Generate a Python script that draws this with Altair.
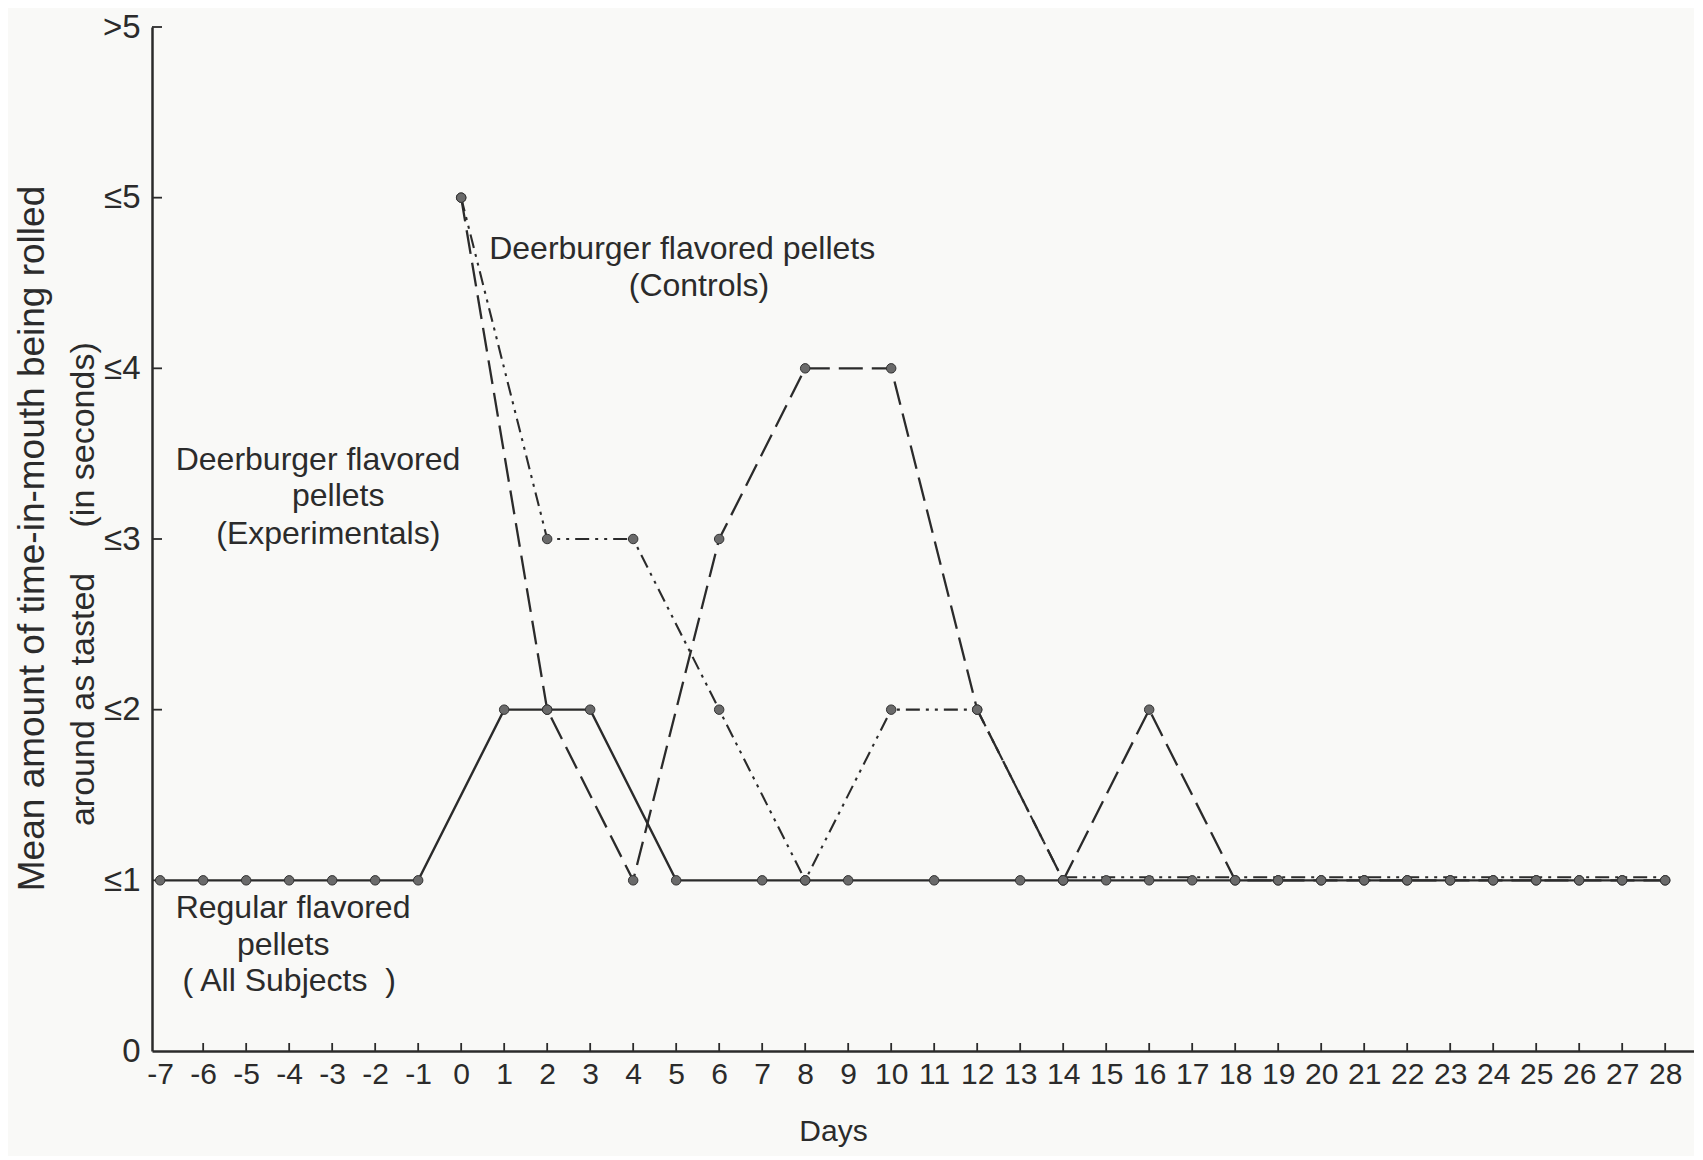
import altair as alt
import pandas as pd

FONT = "Liberation Sans"
INK = "#2b2b2b"

# ---- data ----
x_ticks = [-7, -6, -5, -4, -3, -2, -1, 0, 1, 2, 3, 4, 5, 6, 7, 8, 9, 10, 11, 12, 13, 14,
           15, 16, 17, 18, 19, 20, 21, 22, 23, 24, 25, 26, 27, 28]
y_levels = [0, 1, 2, 3, 4, 5, 6]

# Regular flavored pellets (All Subjects) - solid
solid_days = [-7, -6, -5, -4, -3, -2, -1, 1, 2, 3, 5, 7, 8, 9, 11, 13, 14, 15, 16, 17, 18,
              19, 20, 21, 22, 23, 24, 25, 26, 27, 28]
solid_vals = [1, 1, 1, 1, 1, 1, 1, 2, 2, 2, 1, 1, 1, 1, 1, 1, 1, 1, 1, 1, 1,
              1, 1, 1, 1, 1, 1, 1, 1, 1, 1]

# Deerburger flavored pellets - long dashed
dashed_days = [0, 2, 4, 6, 8, 10, 12, 14, 16, 18, 19, 20, 21, 22, 23, 24, 25, 26, 27, 28]
dashed_vals = [5, 2, 1, 3, 4, 4, 2, 1, 2, 1, 1, 1, 1, 1, 1, 1, 1, 1, 1, 1]

# Deerburger flavored pellets - dash-dot-dot
dashdot_days = [0, 2, 4, 6, 8, 10, 12, 14]
dashdot_vals = [5, 3, 3, 2, 1, 2, 2, 1]
tail_days = [14, 15, 16, 17, 18, 19, 20, 21, 22, 23, 24, 25, 26, 27, 28]
tail_vals = [1, 1, 1, 1, 1, 1, 1, 1, 1, 1, 1, 1, 1, 1, 1]

# annotations (in data units)
ann_text = ["Deerburger flavored pellets", "(Controls)",
            "Deerburger flavored", "pellets", "(Experimentals)",
            "Regular flavored", "pellets", "( All Subjects\u00a0\u00a0)"]
ann_day = [5.14, 5.53, -3.33, -2.86, -3.09, -3.91, -4.14, -4.0]
ann_val = [4.70, 4.48, 3.46, 3.25, 3.03, 0.84, 0.62, 0.41]

ytitle2_text = ["around as tasted", "(in seconds)"]
ytitle2_day = [-8.76, -8.76]
ytitle2_val = [2.06, 3.61]

# ---- build tables ----
rows = []
for d, v in zip(solid_days, solid_vals):
    rows.append({"day": d, "value": v, "series": "solid"})
for d, v in zip(dashed_days, dashed_vals):
    rows.append({"day": d, "value": v, "series": "dashed"})
for d, v in zip(dashdot_days, dashdot_vals):
    rows.append({"day": d, "value": v, "series": "dashdot"})
for d, v in zip(tail_days, tail_vals):
    rows.append({"day": d, "value": v, "series": "tail"})
df = pd.DataFrame(rows)

ann = pd.DataFrame({"day": ann_day, "value": ann_val, "text": ann_text})
yt2 = pd.DataFrame({"day": ytitle2_day, "value": ytitle2_val, "text": ytitle2_text})
xt = pd.DataFrame({"day": x_ticks[1:]})
yt = pd.DataFrame({"value": y_levels[1:]})

W, H = 1542, 1024

X = alt.X("day:Q",
          scale=alt.Scale(domain=[-7.19, 28.67], nice=False, zero=False),
          axis=alt.Axis(values=x_ticks, grid=False, ticks=False, labelFont=FONT,
                        labelFontSize=30, labelColor=INK, labelPadding=8,
                        labelExpr="datum.value < 0 ? '-' + abs(datum.value) : '' + datum.value",
                        labelOverlap=False, labelFlush=False, labelBound=False,
                        domainColor=INK, domainWidth=2.5,
                        title="Days", titleFont=FONT, titleFontSize=30,
                        titleFontWeight="normal", titleColor=INK,
                        titleX=681, titleY=80, titleBaseline="middle",
                        titleAlign="center"))
Y = alt.Y("value:Q",
          scale=alt.Scale(domain=[0, 6], nice=False, zero=True),
          axis=alt.Axis(values=y_levels, grid=False, ticks=False, labelFont=FONT,
                        labelFontSize=33, labelColor=INK, labelPadding=12,
                        labelExpr="datum.value == 0 ? '0' : (datum.value == 6 ? '>5' : '≤' + datum.value)",
                        domainColor=INK, domainWidth=2.5,
                        title="Mean amount of time-in-mouth being rolled",
                        titleFont=FONT, titleFontSize=37, titleFontWeight="normal",
                        titleColor=INK, titleAngle=270, titleX=-120, titleY=511,
                        titleBaseline="middle", titleAlign="center"))

base = alt.Chart(df)

solid = base.transform_filter(alt.datum.series == "solid").mark_line(
    color=INK, strokeWidth=2.4).encode(x=X, y=Y)
dashed = base.transform_filter(alt.datum.series == "dashed").mark_line(
    color=INK, strokeWidth=2.3, strokeDash=[24, 9]).encode(x=X, y=Y)
dashdot = base.transform_filter(alt.datum.series == "dashdot").mark_line(
    color=INK, strokeWidth=2.1, strokeDash=[14, 6, 3, 6, 3, 6]).encode(x=X, y=Y)
tail = base.transform_filter(alt.datum.series == "tail").mark_line(
    color=INK, strokeWidth=2.0, strokeDash=[14, 6, 3, 6, 3, 6], yOffset=-3).encode(x=X, y=Y)
points = base.transform_filter(alt.datum.series != "tail").mark_circle(
    size=90, fill="#6a6a6a", stroke="#333333", strokeWidth=1, opacity=1).encode(x=X, y=Y)

labels = alt.Chart(ann).mark_text(font=FONT, fontSize=32, color=INK,
                                  align="center", baseline="middle").encode(
    x="day:Q", y="value:Q", text="text:N")
ytitle2 = alt.Chart(yt2).mark_text(font=FONT, fontSize=34, color=INK, angle=270,
                                   align="center", baseline="middle").encode(
    x="day:Q", y="value:Q", text="text:N")

xticks = alt.Chart(xt).mark_rule(color=INK, strokeWidth=1.8).encode(
    x="day:Q", y=alt.value(H), y2=alt.value(H - 8))
yticks = alt.Chart(yt).mark_rule(color=INK, strokeWidth=1.8).encode(
    y="value:Q", x=alt.value(0), x2=alt.value(10))

chart = alt.layer(xticks, yticks, solid, dashed, dashdot, tail, points, labels, ytitle2).properties(
    width=W, height=H,
    autosize=alt.AutoSizeParams(type="none"),
    padding={"left": 144, "top": 19, "right": 0, "bottom": 105},
    background="#f9f9f7",
).configure_view(stroke=None)

chart.save("out.html", embed_options={"renderer": "svg", "actions": False})
